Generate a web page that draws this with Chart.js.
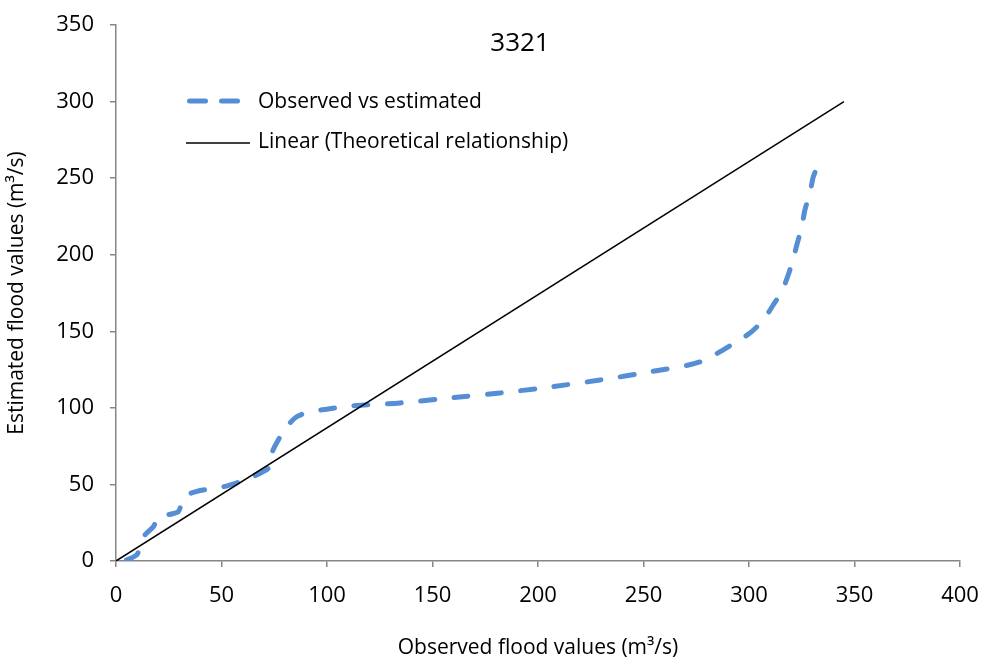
<!DOCTYPE html>
<html>
<head>
<meta charset="utf-8">
<title>3321</title>
<script src="https://cdn.jsdelivr.net/npm/chart.js@4/dist/chart.umd.min.js"></script>
<style>
  html, body { margin: 0; padding: 0; background: #fff; }
  #wrap { width: 988px; height: 665px; }
</style>
</head>
<body>
<div id="wrap"><canvas id="floodChart" width="988" height="665"></canvas></div>
<script>
// observed vs estimated flood values for station 3321 (m3/s)
const observed = [5, 9.8, 11.4, 13.7, 17.7, 20.1, 24, 29.5, 31.1, 33.5, 41.4, 50.9, 58.8, 65.1, 73,
  73.8, 76.9, 80.9, 85.6, 91.9, 99.8, 110.9, 134.6, 158.3, 182, 205.7, 229.4, 253.1, 276.8,
  294.2, 301.3, 306.8, 311.5, 315.5, 318.6, 321, 322.9, 325, 326.5, 328.9, 330.5, 333.3];
const estimated = [0.6, 3.9, 9.3, 17, 22.4, 28.9, 30, 32.2, 37.7, 43.1, 46.4, 48.5, 51.8, 55.1, 61.6,
  70.3, 79, 87.7, 94.2, 97.5, 99.1, 101.2, 103.2, 106.5, 109.7, 113.6, 118.2, 123.5, 130,
  143.2, 149.8, 157.4, 167.2, 175.9, 186.8, 197.7, 207.5, 218.3, 229.3, 240.2, 251, 260.2];

// theoretical relationship line end points
const lineX = [0, 345];
const lineY = [0, 300];

const xTicks = [0, 50, 100, 150, 200, 250, 300, 350, 400];
const yTicks = [0, 50, 100, 150, 200, 250, 300, 350];

const chartTitle = '3321';
const seriesNames = ['Observed vs estimated', 'Linear (Theoretical relationship)'];

const FONT = '"Open Sans", Lato, sans-serif';
const BLUE = '#558ed5';
const AXIS = '#868686';

const obsPoints = observed.map((x, i) => ({ x: x, y: estimated[i] }));
const linPoints = lineX.map((x, i) => ({ x: x, y: lineY[i] }));

// title and legend sit inside the plot area, drawn by hand
const overlay = {
    id: 'overlay',
    afterDraw(chart) {
        const ctx = chart.ctx;
        ctx.save();
        ctx.fillStyle = '#000';
        ctx.font = '26px ' + FONT;
        ctx.textAlign = 'center';
        ctx.textBaseline = 'middle';
        ctx.fillText(chartTitle, 520, 44);

        // legend
        ctx.font = '21px ' + FONT;
        ctx.textAlign = 'left';
        ctx.lineCap = 'round';
        ctx.strokeStyle = BLUE;
        ctx.lineWidth = 5;
        ctx.setLineDash([16, 16]);
        ctx.beginPath();
        ctx.moveTo(189.5, 101);
        ctx.lineTo(238, 101);
        ctx.stroke();
        ctx.setLineDash([]);
        ctx.lineCap = 'butt';
        ctx.strokeStyle = '#000';
        ctx.lineWidth = 1.5;
        ctx.beginPath();
        ctx.moveTo(186, 143);
        ctx.lineTo(250, 143);
        ctx.stroke();
        ctx.fillText(seriesNames[0], 258, 102);
        ctx.fillText(seriesNames[1], 258, 142);
        ctx.restore();
    }
};

new Chart(document.getElementById('floodChart'), {
    type: 'scatter',
    data: {
        datasets: [{
            label: seriesNames[0],
            data: obsPoints,
            showLine: true,
            borderColor: BLUE,
            borderWidth: 5,
            borderDash: [14, 19.5],
            borderCapStyle: 'round',
            tension: 0.25,
            pointRadius: 0,
            order: 2
        }, {
            label: seriesNames[1],
            data: linPoints,
            showLine: true,
            borderColor: '#000',
            borderWidth: 1.5,
            pointRadius: 0,
            order: 1
        }]
    },
    options: {
        responsive: false,
        animation: false,
        layout: { padding: { top: 25, right: 28, left: 0, bottom: 0 } },
        plugins: {
            legend: { display: false },
            tooltip: { enabled: false }
        },
        scales: {
            x: {
                type: 'linear',
                min: 0,
                max: 400,
                afterBuildTicks: scale => { scale.ticks = xTicks.map(v => ({ value: v })); },
                afterFit: scale => {
                    scale.height = 104;
                    scale.paddingLeft = 0;
                    scale.paddingRight = 0;
                },
                border: { color: AXIS, width: 1.5 },
                grid: { drawOnChartArea: false, drawTicks: true, tickLength: 6, color: AXIS, lineWidth: 1.5 },
                ticks: { color: '#000', padding: 16, font: { family: FONT, size: 22 } },
                title: {
                    display: true,
                    text: 'Observed flood values (m³/s)',
                    color: '#000',
                    font: { family: FONT, size: 21 },
                    padding: { top: 10 }
                }
            },
            y: {
                type: 'linear',
                min: 0,
                max: 350,
                afterBuildTicks: scale => { scale.ticks = yTicks.map(v => ({ value: v })); },
                afterFit: scale => {
                    scale.width = 116;
                    scale.paddingTop = 0;
                    scale.paddingBottom = 0;
                },
                border: { color: AXIS, width: 1.5 },
                grid: { drawOnChartArea: false, drawTicks: true, tickLength: 6, color: AXIS, lineWidth: 1.5 },
                ticks: { color: '#000', padding: 16, font: { family: FONT, size: 22 } },
                title: {
                    display: true,
                    text: 'Estimated flood values (m³/s)',
                    color: '#000',
                    font: { family: FONT, size: 21 },
                    padding: { bottom: 0 }
                }
            }
        }
    },
    plugins: [overlay]
});
</script>
</body>
</html>
